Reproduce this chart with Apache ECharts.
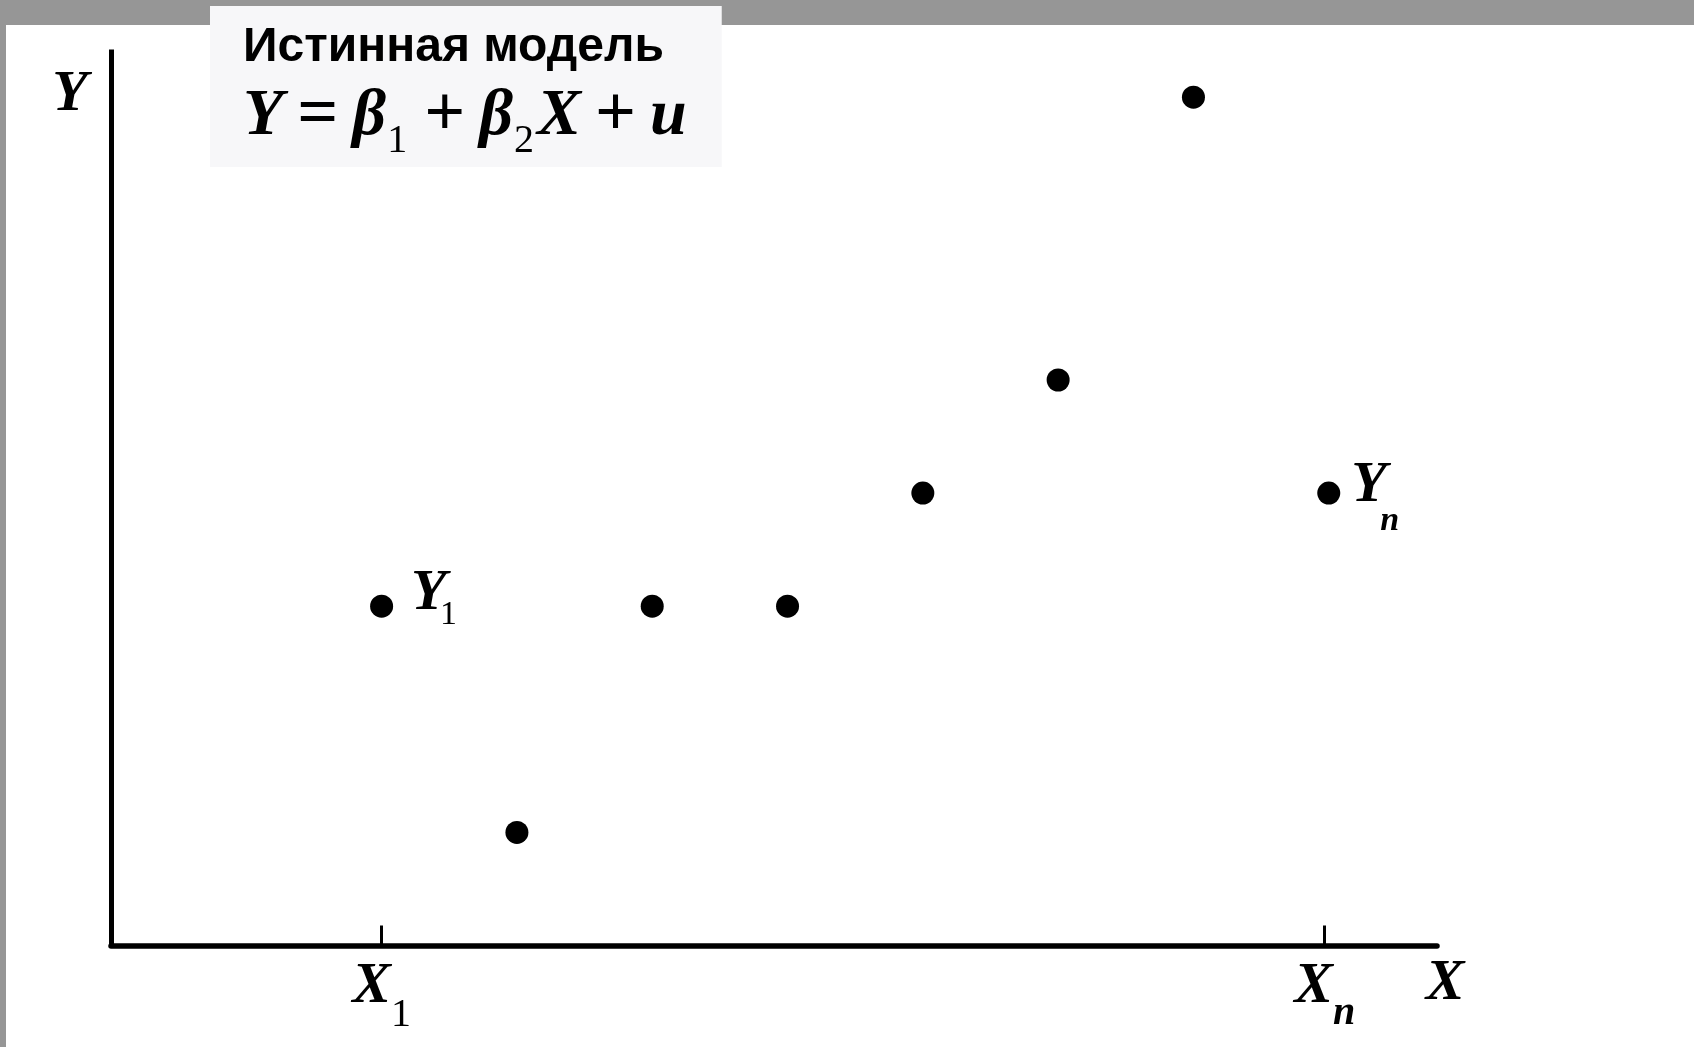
<!DOCTYPE html>
<html>
<head>
<meta charset="utf-8">
<script src="https://cdn.jsdelivr.net/npm/echarts@6/dist/echarts.min.js"></script>
<style>
html,body{margin:0;padding:0;background:#fff;}
#c{width:1694px;height:1047px;}
</style>
</head>
<body>
<div id="c"></div>
<script>
// ---- data ----
const titleLine = 'Истинная модель';
const formulaTokens = [['m','Y'],['o','='],['m','β'],['s','1'],['o','+'],['m','β'],['s','2'],['m','X'],['o','+'],['m','u']];
const xValues = [2, 3, 4, 5, 6, 7, 8, 9];
const yValues = [3, 1, 3, 3, 4, 5, 7.5, 4];
const pointLabelMain = ['Y', null, null, null, null, null, null, 'Y'];
const pointLabelSub  = ['1', null, null, null, null, null, null, 'n'];
const tickValues = [2, 8.97];
const tickMain = ['X', 'X'];
const tickSub = ['1', 'n'];
const xName = 'X';
const yName = 'Y';

// ---- styles ----
const serif = '"Liberation Serif","Times New Roman",serif';
const sans = '"Liberation Sans",Arial,sans-serif';
const subStyleFor = { '1': 'd', 'n': 'n' };
const pointLabelTweak = { '1': { dx: 6, dy: -12, pt: 69 }, 'n': { dx: -1, dy: -7.5, pt: 83.5 } };

const formulaText = formulaTokens.map(t => '{f' + t[0] + '|' + t[1] + '}').join('');

const data = xValues.map((x, i) => {
  const item = { value: [x, yValues[i]] };
  if (pointLabelMain[i]) {
    const sub = pointLabelSub[i];
    const tw = pointLabelTweak[sub];
    item.label = {
      show: true,
      position: 'right',
      distance: 12,
      offset: [tw.dx, tw.dy],
      color: '#000',
      formatter: '{m|' + pointLabelMain[i] + '}{p' + subStyleFor[sub] + '|' + sub + '}',
      rich: {
        m: { fontFamily: serif, fontStyle: 'italic', fontWeight: 'bold', fontSize: 58, lineHeight: 130, width: 29, verticalAlign: 'middle', color: '#000' },
        pd: { fontFamily: serif, fontWeight: 'normal', fontSize: 34, lineHeight: 34, verticalAlign: 'top', padding: [pointLabelTweak['1'].pt, 0, 0, 0], color: '#000' },
        pn: { fontFamily: serif, fontStyle: 'italic', fontWeight: 'bold', fontSize: 34, lineHeight: 34, verticalAlign: 'top', padding: [pointLabelTweak['n'].pt, 0, 0, 0], color: '#000' }
      }
    };
  }
  return item;
});

const chart = echarts.init(document.getElementById('c'), null, { renderer: 'canvas' });
const option = {
  backgroundColor: '#ffffff',
  animation: false,
  graphic: [
    { type: 'rect', z: -100, silent: true, shape: { x: 0, y: 0, width: 1694, height: 25 }, style: { fill: '#969696' } },
    { type: 'rect', z: -100, silent: true, shape: { x: 0, y: 0, width: 6, height: 1047 }, style: { fill: '#969696' } }
  ],
  title: {
    left: 210,
    top: 9,
    z: 20,
    padding: [17.5, 35, 6, 33],
    backgroundColor: '#f7f7f9',
    text: '{h|' + titleLine + '}\n' + formulaText,
    textStyle: {
      rich: {
        h: { fontFamily: sans, fontWeight: 'bold', fontSize: 48, lineHeight: 42, verticalAlign: 'middle', color: '#000' },
        fm: { fontFamily: serif, fontStyle: 'italic', fontWeight: 'bold', fontSize: 66, lineHeight: 96, verticalAlign: 'middle', color: '#000' },
        fo: { fontFamily: serif, fontWeight: 'bold', fontSize: 72, lineHeight: 96, verticalAlign: 'middle', padding: [0, 14, 0, 14], color: '#000' },
        fs: { fontFamily: serif, fontWeight: 'normal', fontSize: 40, lineHeight: 40, verticalAlign: 'top', padding: [52.5, 3, 0, 1], color: '#000' }
      }
    }
  },
  grid: { left: 111, top: 52, right: 257, bottom: 101.5 },
  xAxis: {
    type: 'value',
    min: 0,
    max: 9.8,
    name: xName,
    nameLocation: 'end',
    nameGap: 8,
    nameTextStyle: { fontFamily: serif, fontStyle: 'italic', fontWeight: 'bold', fontSize: 58, color: '#000', align: 'center', verticalAlign: 'top', lineHeight: 78 },
    axisLine: { show: true, onZero: false, lineStyle: { color: '#000', width: 5.5 } },
    splitLine: { show: false },
    axisTick: { show: true, inside: true, length: 20, customValues: tickValues, lineStyle: { color: '#000', width: 3 } },
    axisLabel: {
      show: true,
      customValues: tickValues,
      margin: -13.5,
      formatter: function (v) {
        const i = tickValues.indexOf(v);
        if (i < 0) return '';
        return '{m|' + tickMain[i] + '}{' + subStyleFor[tickSub[i]] + '|' + tickSub[i] + '}';
      },
      rich: {
        m: { fontFamily: serif, fontStyle: 'italic', fontWeight: 'bold', fontSize: 58, lineHeight: 110, verticalAlign: 'middle', color: '#000' },
        d: { fontFamily: serif, fontStyle: 'normal', fontWeight: 'normal', fontSize: 40, lineHeight: 40, verticalAlign: 'top', padding: [63.5, 0, 0, 0], color: '#000' },
        n: { fontFamily: serif, fontStyle: 'italic', fontWeight: 'bold', fontSize: 40, lineHeight: 40, verticalAlign: 'top', padding: [62, 0, 0, 0], color: '#000' }
      }
    }
  },
  yAxis: {
    type: 'value',
    min: 0,
    max: 7.9,
    name: yName,
    nameLocation: 'end',
    nameGap: -43,
    nameTextStyle: { fontFamily: serif, fontStyle: 'italic', fontWeight: 'bold', fontSize: 58, color: '#000', align: 'center', verticalAlign: 'middle', lineHeight: 60, padding: [0, 82, 0, 0] },
    axisLine: { show: true, onZero: false, lineStyle: { color: '#000', width: 5, cap: 'square' } },
    axisTick: { show: false },
    axisLabel: { show: false },
    splitLine: { show: false }
  },
  series: [{
    type: 'scatter',
    symbol: 'circle',
    symbolSize: 23,
    itemStyle: { color: '#000', opacity: 1 },
    label: { show: false },
    data: data
  }]
};
chart.setOption(option);
</script>
</body>
</html>
